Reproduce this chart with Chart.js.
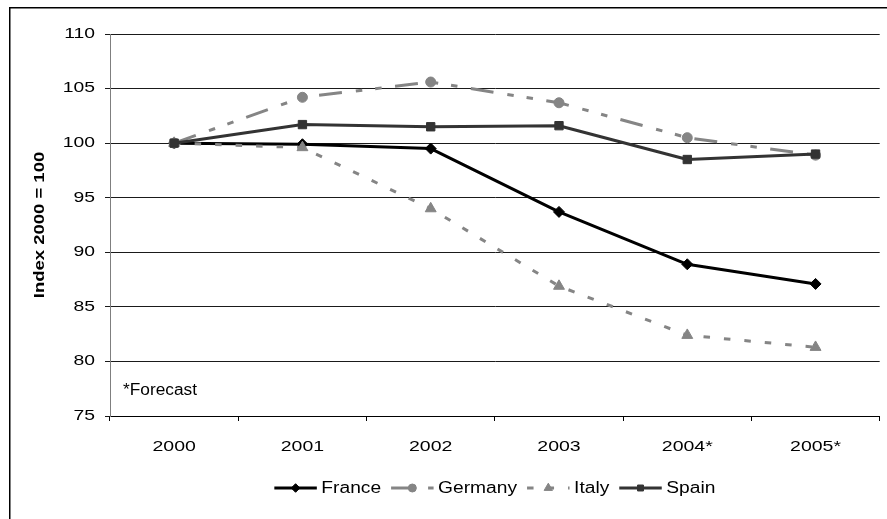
<!DOCTYPE html>
<html>
<head>
<meta charset="utf-8">
<title>Index 2000 = 100</title>
<script src="https://cdn.jsdelivr.net/npm/chart.js@4/dist/chart.umd.min.js"></script>
<style>
  html, body { margin: 0; padding: 0; background: #fff; }
  canvas { display: block; }
</style>
</head>
<body>
<canvas id="chart" width="887" height="519"></canvas>
<script>
// Categories and series (index, 2000 = 100)
const categories = ['2000', '2001', '2002', '2003', '2004*', '2005*'];
const france  = [100, 99.9, 99.5, 93.7, 88.9, 87.1];
const germany = [100, 104.2, 105.6, 103.7, 100.5, 98.9];
const italy   = [100, 99.6, 94.0, 86.9, 82.4, 81.3];
const spain   = [100, 101.7, 101.5, 101.6, 98.5, 99.0];

// Value axis ticks
const yMin = 75, yMax = 110, yStep = 5;
const yTitle = 'Index 2000 = 100';
const footnote = '*Forecast';

const FONT = '"Liberation Sans", Arial, Helvetica, sans-serif';
const GREY = '#858585';

// Horizontal widening applied to the text glyphs
const STRETCH = { xTicks: 1.3, yTicks: 1.38, yTitle: 1.32, legend: 1.2, note: 1.08 };

// Temporarily replaces fillText so every string is widened about its anchor point.
function withStretch(ctx, sx, draw) {
  const fill = ctx.fillText;
  ctx.fillText = function (text, x, y, maxWidth) {
    this.save();
    this.translate(x, y);
    this.scale(sx, 1);
    if (maxWidth === undefined) fill.call(this, text, 0, 0);
    else fill.call(this, text, 0, 0, maxWidth / sx);
    this.restore();
  };
  try { draw(); } finally { delete ctx.fillText; }
}

const series = [
  { label: 'France',  data: france,  color: '#000000', dash: [],                         point: 'rectRot',  radius: 5.5, legendRadius: 4.3, order: 3 },
  { label: 'Germany', data: germany, color: GREY,      dash: [23, 14, 6.5, 13, 6.5, 13.5], point: 'circle',   radius: 5,   legendRadius: 4,   order: 2 },
  { label: 'Italy',   data: italy,   color: GREY,      dash: [6.5, 14],                   point: 'triangle', radius: 6.3, legendRadius: 4.8, order: 1 },
  { label: 'Spain',   data: spain,   color: '#333333', dash: [],                         point: 'rect',     radius: 5.9, legendRadius: 4.2, order: 0 }
];

// Page frame, widened scale text, footnote and line legend
const decorations = {
  id: 'decorations',
  beforeDraw(chart) {
    const ctx = chart.ctx;
    ctx.save();
    ctx.fillStyle = '#ffffff';
    ctx.fillRect(0, 0, chart.width, chart.height);
    ctx.strokeStyle = '#000000';
    ctx.lineWidth = 1.5;
    ctx.strokeRect(9.75, 7.75, chart.width + 20, chart.height + 20);
    ctx.restore();

    const x = chart.scales.x, y = chart.scales.y;
    if (!x._widened) {
      const xl = x.drawLabels.bind(x);
      x.drawLabels = (area) => withStretch(ctx, STRETCH.xTicks, () => xl(area));
      x._widened = true;
    }
    if (!y._widened) {
      const yl = y.drawLabels.bind(y);
      const yt = y.drawTitle.bind(y);
      y.drawLabels = (area) => withStretch(ctx, STRETCH.yTicks, () => yl(area));
      y.drawTitle = () => withStretch(ctx, STRETCH.yTitle, () => yt());
      y._widened = true;
    }
  },
  afterDraw(chart) {
    const ctx = chart.ctx;
    const area = chart.chartArea;
    const helpers = Chart.helpers;

    // footnote inside the plot
    ctx.save();
    ctx.font = '16px ' + FONT;
    ctx.fillStyle = '#000000';
    ctx.textAlign = 'left';
    ctx.textBaseline = 'alphabetic';
    withStretch(ctx, STRETCH.note, () => ctx.fillText(footnote, area.left + 13, area.bottom - 21));
    ctx.restore();

    // legend: line sample with marker, then label
    const lineLen = 42.5, textGap = 4.5, itemGap = 10;
    const ly = 488;
    ctx.save();
    ctx.font = '16px ' + FONT;
    const widths = series.map(s => ctx.measureText(s.label).width * STRETCH.legend);
    const total = widths.reduce((a, w) => a + lineLen + textGap + w, 0) + itemGap * (series.length - 1);
    let lx = (area.left + area.right) / 2 - total / 2;
    series.forEach((s, i) => {
      ctx.save();
      ctx.strokeStyle = s.color;
      ctx.lineWidth = 3;
      ctx.lineCap = 'butt';
      ctx.setLineDash(s.dash);
      ctx.beginPath();
      ctx.moveTo(lx, ly);
      ctx.lineTo(lx + lineLen, ly);
      ctx.stroke();
      ctx.restore();

      ctx.save();
      ctx.fillStyle = s.color;
      ctx.strokeStyle = s.color;
      ctx.lineWidth = 1;
      helpers.drawPoint(ctx, { pointStyle: s.point, radius: s.legendRadius, rotation: 0, borderWidth: 1 }, lx + lineLen / 2, ly);
      ctx.restore();

      ctx.fillStyle = '#000000';
      ctx.textAlign = 'left';
      ctx.textBaseline = 'middle';
      const tx = lx + lineLen + textGap;
      withStretch(ctx, STRETCH.legend, () => ctx.fillText(s.label, tx, ly + 1));
      lx = tx + widths[i] + itemGap;
    });
    ctx.restore();
  }
};

new Chart(document.getElementById('chart'), {
  type: 'line',
  data: {
    labels: categories,
    datasets: series.map(s => ({
      label: s.label,
      data: s.data,
      order: s.order,
      borderColor: s.color,
      backgroundColor: s.color,
      borderWidth: 3,
      borderDash: s.dash,
      borderCapStyle: 'butt',
      borderJoinStyle: 'round',
      tension: 0,
      fill: false,
      pointStyle: s.point,
      pointRadius: s.radius,
      pointHoverRadius: s.radius,
      pointBackgroundColor: s.color,
      pointBorderColor: s.color,
      pointBorderWidth: 1
    }))
  },
  options: {
    responsive: false,
    animation: false,
    devicePixelRatio: 1,
    layout: { padding: { top: 34, right: 1, bottom: 0, left: 0 } },
    font: { family: FONT },
    plugins: {
      legend: { display: false },
      tooltip: { enabled: false }
    },
    scales: {
      x: {
        type: 'category',
        offset: true,
        afterFit(scale) { scale.height = 103; },
        grid: {
          offset: true,
          drawOnChartArea: false,
          drawTicks: true,
          tickLength: 5,
          color: '#000000',
          lineWidth: 1
        },
        border: { display: true, color: '#000000', width: 1 },
        ticks: {
          color: '#000000',
          padding: 17,
          maxRotation: 0,
          autoSkip: false,
          font: { family: FONT, size: 15 }
        }
      },
      y: {
        min: yMin,
        max: yMax,
        afterFit(scale) { scale.width = 110; },
        grid: {
          color: '#1a1a1a',
          lineWidth: 1,
          drawTicks: true,
          tickLength: 5
        },
        border: { display: true, color: '#7f7f7f', width: 1 },
        ticks: {
          stepSize: yStep,
          color: '#000000',
          padding: 10,
          font: { family: FONT, size: 14 }
        },
        title: {
          display: true,
          text: yTitle,
          color: '#000000',
          padding: { top: 31.5, bottom: 0 },
          font: { family: FONT, size: 14, weight: 'bold' }
        }
      }
    }
  },
  plugins: [decorations]
});
</script>
</body>
</html>
